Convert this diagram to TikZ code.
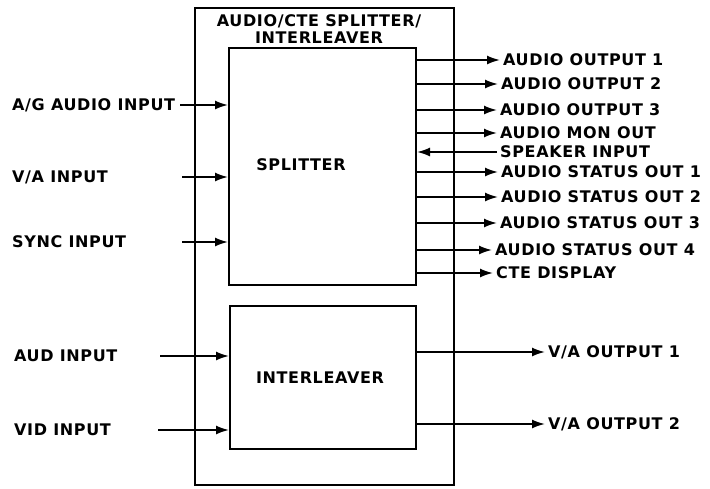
\documentclass[tikz,border=0pt]{standalone}
\usepackage{fontspec}
\setmainfont{DejaVu Sans}
\newfontfamily\lblfont[LetterSpace=4]{DejaVu Sans}
\usetikzlibrary{arrows.meta}

\begin{document}
\begin{tikzpicture}[x=1pt, y=-1pt,
    lbl/.style={font=\lblfont\bfseries\fontsize{16}{17}\selectfont, inner sep=0pt},
    blk/.style={draw, line width=2pt, inner sep=0pt},
    sig/.style={-{Latex[length=13pt,width=9pt]}, line width=1.8pt}]
    \useasboundingbox (0,0) rectangle (710,488);
    % unit and its two blocks
    \node[blk, minimum width=259pt, minimum height=477pt] (unit) at (324.5,246.5) {};
    \node[lbl, align=center] (title) at (319,29) {AUDIO/CTE SPLITTER/\\INTERLEAVER};
    \node[blk, minimum width=187pt, minimum height=237pt] (split) at (322.5,166.5) {};
    \node[lbl] (splitname) at (301,165) {SPLITTER};
    \node[blk, minimum width=186pt, minimum height=143pt] (inter) at (323,377.5) {};
    \node[lbl] (intername) at (320,378) {INTERLEAVER};
    % inputs
    \node[lbl, anchor=west] (agin) at (12,105) {A/G AUDIO INPUT};
    \node[lbl, anchor=west] (vain) at (12,177) {V/A INPUT};
    \node[lbl, anchor=west] (syncin) at (12,242) {SYNC INPUT};
    \node[lbl, anchor=west] (audin) at (14,356) {AUD INPUT};
    \node[lbl, anchor=west] (vidin) at (14,430) {VID INPUT};
    \coordinate (agst) at (180,105);
    \coordinate (vast) at (182,177);
    \coordinate (syncst) at (182,242);
    \coordinate (audst) at (160,356);
    \coordinate (vidst) at (158,430);
    \foreach \s in {agst,vast,syncst} \draw[sig] (\s) -- (split.west |- \s);
    \foreach \s in {audst,vidst} \draw[sig] (\s) -- (inter.west |- \s);
    % splitter outputs
    \foreach \y/\tip/\n/\t in {60/500/aout1/AUDIO OUTPUT 1, 84/498/aout2/AUDIO OUTPUT 2,
        110/497/aout3/AUDIO OUTPUT 3, 133/497/amon/AUDIO MON OUT,
        172/498/ast1/AUDIO STATUS OUT 1, 197/498/ast2/AUDIO STATUS OUT 2,
        223/497/ast3/AUDIO STATUS OUT 3, 250/492/ast4/AUDIO STATUS OUT 4,
        273/493/cte/CTE DISPLAY}
    {
        \node[lbl, anchor=west, inner xsep=3pt] (\n) at (\tip,\y) {\t};
        \draw[sig] (split.east |- \n.west) -- (\n.west);
    }
    \node[lbl, anchor=west, inner xsep=3pt] (spkin) at (497,152) {SPEAKER INPUT};
    \draw[sig] (spkin.west) -- (split.east |- spkin.west);
    % interleaver outputs
    \node[lbl, anchor=west, inner xsep=3pt] (vaout1) at (545,352) {V/A OUTPUT 1};
    \node[lbl, anchor=west, inner xsep=3pt] (vaout2) at (545,424) {V/A OUTPUT 2};
    \draw[sig] (inter.east |- vaout1.west) -- (vaout1.west);
    \draw[sig] (inter.east |- vaout2.west) -- (vaout2.west);
\end{tikzpicture}
\end{document}
